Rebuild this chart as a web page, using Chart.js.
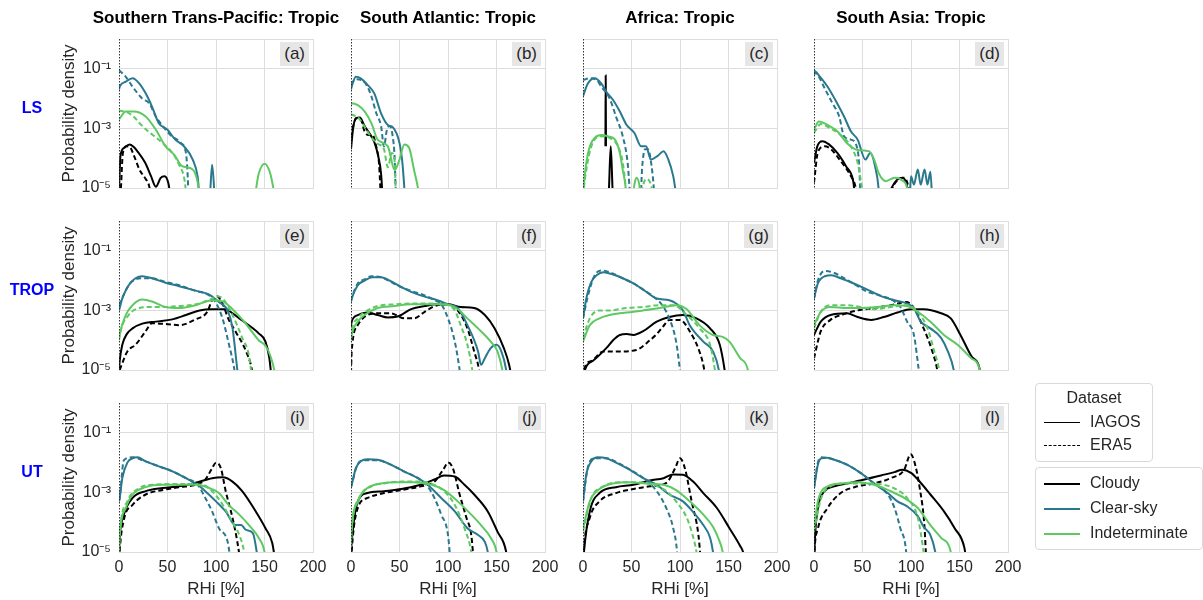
<!DOCTYPE html>
<html>
<head>
<meta charset="utf-8">
<script src="https://cdn.jsdelivr.net/npm/chart.js@4.4.1/dist/chart.umd.min.js"></script>
<style>
  body { margin: 0; background: #fff; width: 1203px; height: 600px; position: relative; overflow: hidden;
         font-family: "Liberation Sans", Arial, sans-serif; color: #262626; }
  canvas { position: absolute; }
  .coltitle { position: absolute; top: 8px; width: 300px; text-align: center; font-weight: bold; font-size: 17px; color: #000; }
  .rowlabel { position: absolute; width: 64px; text-align: center; font-weight: bold; font-size: 16px; color: #0000ff; }
  .tag { position: absolute; background: #e6e6e6; font-size: 17px; padding: 2px 4px; color: #262626; line-height: 20px; }
  .legbox { position: absolute; border: 1px solid #d9d9d9; border-radius: 4px; background: #fff; font-size: 16px; color: #262626; }
  .legtitle { position: absolute; width: 100%; text-align: center; top: 5px; }
  .legrow { position: absolute; left: 8px; height: 20px; line-height: 20px; white-space: nowrap; }
  .legrow span { display: inline-block; width: 36px; margin-right: 10px; vertical-align: middle; }
</style>
</head>
<body>
<script>
// ---- data (RHi in %, probability density) ----
const REGIONS = ['Southern Trans-Pacific: Tropic', 'South Atlantic: Tropic', 'Africa: Tropic', 'South Asia: Tropic'];
const LAYERS = ['LS', 'TROP', 'UT'];
const PANEL_TAGS = ['(a)', '(b)', '(c)', '(d)', '(e)', '(f)', '(g)', '(h)', '(i)', '(j)', '(k)', '(l)'];
const DATASET_NAMES = ['IAGOS', 'ERA5'];
const CATEGORY_NAMES = ['Cloudy', 'Clear-sky', 'Indeterminate'];
const CATEGORY_COLORS = ['#000000', '#2a788e', '#5ec962'];
const RHI_TICKS = [0, 50, 100, 150, 200];
const DENSITY_TICKS = [1e-5, 1e-3, 1e-1, 1];
const DENSITY_LABELS = ['10⁻⁵', '10⁻³', '10⁻¹', ''];

// one entry per panel (a)..(l); points are [RHi, density]
const cloudyIagos = [
  [[0,8e-6],[1.5,1.2e-4],[5,2.2e-4],[11,2.9e-4],[15,2.4e-4],[19,1.7e-4],[27,7e-5],[33,2.5e-5],[38,1.1e-5],[43,2.2e-5],[47,2.5e-5],[51,1.4e-5],[54,3e-6]],
  [[0,2e-4],[2,9e-4],[5,2.2e-3],[9,2.3e-3],[14,1.2e-3],[21,5.4e-4],[24,3.5e-4],[28,1.2e-4],[31,3e-5],[33,3e-6]],
  [[23.1,2.5e-4],[23.4,6e-2],[23.7,2.5e-4],[25,null],[26.8,1e-5],[28.6,2.5e-4],[30.4,1e-5]],
  [[0,7e-5],[3.4,2.5e-4],[8.6,3.7e-4],[15.5,2.9e-4],[24,1.5e-4],[33,5.4e-5],[40,2e-5],[44,3e-6],[74,3e-6],[80,1e-5],[85,1.8e-5],[91,2.2e-5],[95,1.5e-5],[99,3e-6]],
  [[0,1e-5],[0.7,2e-5],[3.4,7e-5],[8,1.6e-4],[14,2.5e-4],[24,3.6e-4],[38,4.2e-4],[55,5e-4],[69,7e-4],[83,1e-3],[96,1.1e-3],[110,1.1e-3],[117,8e-4],[124,5.4e-4],[138,2.5e-4],[144,1.7e-4],[151,9e-5],[155,2.5e-5],[158,3e-6]],
  [[0,3e-4],[0.7,4.2e-4],[7,7e-4],[17,8.5e-4],[27.5,7e-4],[38,5.8e-4],[48,6.2e-4],[62,1.1e-3],[76,1.4e-3],[89,1.6e-3],[100,1.6e-3],[113,1.3e-3],[127,1.2e-3],[138,7e-4],[148,2.5e-4],[158,5e-5],[163,1.5e-5],[167,3e-6]],
  [[0,3e-6],[2,1e-5],[10,2e-5],[24,5.4e-5],[31,1e-4],[38,1.5e-4],[45,1.6e-4],[52,1.5e-4],[62,2e-4],[76,4.2e-4],[89,6e-4],[103,7e-4],[117,5.4e-4],[131,2.5e-4],[141,7e-5],[146,1e-5],[148,3e-6]],
  [[0,1.5e-4],[7,4.2e-4],[17,7e-4],[34,8e-4],[45,6e-4],[59,4.8e-4],[72,6e-4],[86,8.5e-4],[100,1.1e-3],[113,1.1e-3],[131,8e-4],[141,5.4e-4],[151,1.5e-4],[162,3e-5],[171,1e-5],[173,3e-6]],
  [[0,1e-5],[1,4e-5],[5,1.8e-4],[14,6.5e-4],[27.5,1.1e-3],[45,1.4e-3],[62,1.6e-3],[79,2.1e-3],[96,3e-3],[107,3.2e-3],[117,2.3e-3],[127,1.1e-3],[141,2.3e-4],[151,6.3e-5],[158,2e-5],[162,3e-6]],
  [[0,1e-5],[0.7,2.2e-5],[7,5e-4],[17,9.5e-4],[34,1.1e-3],[52,1.3e-3],[69,1.7e-3],[86,2.7e-3],[96,3.7e-3],[107,3.4e-3],[117,1.8e-3],[127,8.5e-4],[141,2.3e-4],[151,4.8e-5],[160,1e-5],[162,3e-6]],
  [[0,3e-6],[1,1e-5],[7,2.3e-4],[17,9.5e-4],[34,1.5e-3],[52,1.8e-3],[69,2.5e-3],[83,3e-3],[93,4e-3],[103,3.9e-3],[113,2.4e-3],[124,9.5e-4],[138,3e-4],[151,6.3e-5],[162,1.6e-5],[165,1e-5],[168,3e-6]],
  [[0,3e-6],[1,3e-5],[4,3e-4],[11,1.1e-3],[21,1.6e-3],[34,2e-3],[52,2.7e-3],[69,3.7e-3],[83,4.8e-3],[91,5.8e-3],[100,4.5e-3],[107,2.7e-3],[120,8.5e-4],[134,2.3e-4],[145,6.3e-5],[155,1.4e-5],[158,3e-6]]
];
const cloudyEra5 = [
  [[2,1e-5],[4,1.5e-4],[8,2.5e-4],[11,2.4e-4],[15.5,1.2e-4],[21,4.2e-5],[27.5,2e-5],[31,1.2e-5],[34,3e-6]],
  [[0,5e-4],[3,1.5e-3],[6,2.2e-3],[10,2e-3],[14,8e-4],[18,6e-4],[22,6e-4],[26,2.5e-4],[29,6e-5],[31,3e-6]],
  [],
  [[0,1.5e-5],[4,1.6e-4],[11,2.5e-4],[17.5,2e-4],[27.5,8e-5],[38,2.5e-5],[43,1e-5],[45,3e-6],[76,3e-6],[82,1.2e-5],[88,2e-5],[93,2.2e-5],[97,1.2e-5],[100,3e-6]],
  [[0.7,1e-5],[8.6,4.2e-5],[17,7e-5],[27.5,2e-4],[34,3.7e-4],[48,3.5e-4],[62,3.2e-4],[79,5e-4],[91,9e-4],[96,2.2e-3],[101,3e-3],[107,1.6e-3],[113,5e-4],[120,2e-4],[131,4.2e-5],[137,1e-5],[139,3e-6]],
  [[0,8e-6],[0.7,4.2e-5],[7,3.2e-4],[17,7e-4],[27.5,8e-4],[41,8e-4],[55,5.4e-4],[65,5.4e-4],[76,9e-4],[89,1.5e-3],[100,1.6e-3],[110,1e-3],[120,2.5e-4],[127,4.2e-5],[132,1e-5],[134,3e-6]],
  [[0,3e-6],[1,1e-5],[8.6,2e-5],[21,4.2e-5],[38,4.2e-5],[55,4.7e-5],[69,1e-4],[76,1.6e-4],[83,3e-4],[89,4.8e-4],[100,4.8e-4],[110,2e-4],[120,4.2e-5],[125,1e-5],[127,3e-6]],
  [[0,2.5e-5],[7,2e-4],[17,4.8e-4],[31,7.5e-4],[45,1e-3],[62,1.2e-3],[79,1.5e-3],[95,1.9e-3],[103,1.2e-3],[113,2.5e-4],[122,4.2e-5],[127,1e-5],[129,3e-6]],
  [[0,3e-6],[0.7,1e-5],[5,1.2e-4],[14,3.8e-4],[27.5,8.5e-4],[45,1.2e-3],[62,1.5e-3],[79,1.8e-3],[89,2.7e-3],[96,6.5e-3],[100,1e-2],[105,6.5e-3],[110,1.1e-3],[117,1.4e-4],[122,2.2e-5],[126,3e-6]],
  [[0,3e-6],[0.7,1e-5],[7,3e-4],[17,6.5e-4],[34,9.5e-4],[52,1.2e-3],[72,1.6e-3],[86,2.3e-3],[96,6.5e-3],[100,1e-2],[105,6.5e-3],[112,8.5e-4],[119,1.4e-4],[124,3.7e-5],[127,3e-6]],
  [[0,3e-6],[0.7,1e-5],[7,1.4e-4],[17,5e-4],[34,9.5e-4],[52,1.3e-3],[69,1.6e-3],[86,2.1e-3],[95,6.5e-3],[100,1.4e-2],[105,6.5e-3],[112,5e-4],[119,3.7e-5],[122,3e-6]],
  [[0,3e-6],[0.5,1e-5],[4,6e-5],[14,3e-4],[27.5,9.5e-4],[45,1.6e-3],[62,2e-3],[79,3e-3],[93,5.8e-3],[99.6,1.9e-2],[103,1.2e-2],[109,1.4e-3],[114,6.3e-5],[116,3e-6]]
];
const clearIagos = [
  [[0,2e-2],[0.7,2.5e-2],[7,3.7e-2],[14,4.8e-2],[21,3.2e-2],[27.5,1.5e-2],[34,5.4e-3],[41,1.5e-3],[50,9e-4],[58,4.2e-4],[67,2.5e-4],[76,9e-5],[81,2.5e-5],[84,3e-6],[93,3e-6],[96,6e-5],[99,3e-6]],
  [[0,2e-2],[0.7,2.5e-2],[5,5.4e-2],[10,4.8e-2],[17,2.9e-2],[24,1.5e-2],[31,3.2e-3],[38,1.3e-3],[43,1.1e-3],[50,3.2e-4],[53,7e-5],[55,1e-5],[56,3e-6]],
  [[0,1.2e-2],[5,3.2e-2],[12,4.8e-2],[19,3.2e-2],[24,1.7e-2],[31,9e-3],[38,3.7e-3],[45,1.3e-3],[53,7e-4],[60,2.5e-4],[65,2.5e-4],[70,9e-5],[77,1.2e-4],[83,1.7e-4],[88,9e-5],[93,2.5e-5],[95,1e-5],[97,3e-6]],
  [[0,6e-2],[1.7,8e-2],[5,6e-2],[14,2.5e-2],[22,9e-3],[31,2.5e-3],[38,8e-4],[45,4.2e-4],[53,9e-5],[58,1.5e-4],[65,2.5e-5],[69,3e-6],[98,3e-6],[100,2.5e-5],[103,1.3e-5],[107,4.2e-5],[110,1.3e-5],[114,4.2e-5],[117,1.3e-5],[120,3.5e-5],[122,3e-6]],
  [[0,1e-3],[0.7,1.2e-3],[3.4,2.5e-3],[10,7e-3],[17,1.2e-2],[24,1.4e-2],[34,1.2e-2],[48,8.5e-3],[62,6.5e-3],[79,4.6e-3],[93,3.4e-3],[103,1.9e-3],[112,1e-3],[117,2.6e-4],[122,1e-5],[124,3e-6]],
  [[0,2e-3],[0.7,2.5e-3],[7,7e-3],[14,1e-2],[22,1.3e-2],[31,1.3e-2],[41,9.5e-3],[52,6e-3],[62,4.2e-3],[76,2.9e-3],[89,2.2e-3],[100,1.6e-3],[110,1.2e-3],[120,3.2e-4],[131,4.2e-5],[134,1.5e-5],[138,2.5e-5],[144,5.4e-5],[150,7e-5],[155,4.2e-5],[160,1e-5],[162,3e-6]],
  [[0,5.4e-4],[3.4,2.5e-3],[8.6,9e-3],[14,1.5e-2],[21,1.9e-2],[31,1.6e-2],[41,1.2e-2],[52,8e-3],[62,5e-3],[76,2.5e-3],[89,2.2e-3],[96,1.7e-3],[103,1e-3],[110,3.2e-4],[124,9e-5],[134,4.2e-5],[140,1e-5],[142,3e-6]],
  [[0,2.5e-3],[4,8e-3],[11,1.4e-2],[18,1.5e-2],[27.5,1.2e-2],[41,8e-3],[55,5e-3],[69,3e-3],[83,2.2e-3],[96,1.7e-3],[103,1.2e-3],[110,4.2e-4],[120,2.5e-4],[131,1.2e-4],[138,4.2e-5],[144,1e-5],[146,3e-6]],
  [[0,5e-4],[0.7,6.5e-4],[3.4,3e-3],[8.6,1e-2],[14,1.4e-2],[19,1.5e-2],[27.5,1.1e-2],[41,7.5e-3],[55,5.1e-3],[69,3e-3],[81,1.8e-3],[89,1.1e-3],[100,5e-4],[110,2.3e-4],[120,8e-5],[126,8e-5],[131,5.5e-5],[138,4.3e-5],[142,1e-5],[144,3e-6]],
  [[0,1.5e-3],[0.7,1.8e-3],[5,6.5e-3],[10,1.1e-2],[17,1.3e-2],[27.5,1.25e-2],[41,8.5e-3],[55,5e-3],[69,3e-3],[79,1.8e-3],[93,6.5e-4],[107,2.3e-4],[120,6.3e-5],[131,3.7e-5],[138,2.2e-5],[141,1e-5],[143,3e-6]],
  [[0,5e-4],[3.4,4e-3],[8.6,1.1e-2],[15.5,1.5e-2],[24,1.4e-2],[34,1e-2],[48,5.8e-3],[62,3e-3],[76,1.8e-3],[89,8.5e-4],[103,5e-4],[113,2.3e-4],[124,8e-5],[131,3e-5],[134,1e-5],[136,3e-6]],
  [[0,1.4e-3],[4,8.5e-3],[7.5,1.4e-2],[13,1.45e-2],[21,1.25e-2],[34,8.5e-3],[48,4.5e-3],[62,2e-3],[76,9.5e-4],[86,5e-4],[96,3.4e-4],[107,1.6e-4],[113,7e-5],[120,3.7e-5],[125,1e-5],[127,3e-6]]
];
const clearEra5 = [
  [[0,9e-2],[7,5.4e-2],[14,2.5e-2],[24,1e-2],[31,7e-3],[38,2.5e-3],[45,1.2e-3],[53,6e-4],[64,3.2e-4],[69,1.5e-4],[70.5,4e-5],[72,3e-6]],
  [[0,3e-2],[5,4.5e-2],[12,4e-2],[17,2.5e-2],[21,1.2e-2],[26,3.3e-3],[31,1.2e-3],[34,2.5e-4],[37,9e-4],[40,1.2e-3],[43,5.4e-4],[45,1e-4],[46,1e-5],[47,3e-6]],
  [[0,4.2e-2],[7,4.8e-2],[14,4.2e-2],[19,2.5e-2],[27.5,1e-2],[34,2.5e-3],[41,5.4e-4],[46,7e-5],[48,1e-5],[49,3e-6],[59,3e-6],[61,5e-5],[64,2e-4],[67,2e-4],[70,8e-5],[73,1e-5],[74,3e-6]],
  [[0,9e-2],[5,5.4e-2],[12,1.9e-2],[19,7e-3],[26,2.5e-3],[31,5.4e-4],[38,4.2e-4],[45,1.9e-4],[47,3e-5],[48,3e-6]],
  [[0,1.5e-3],[3,2.5e-3],[10,7e-3],[17,1.1e-2],[24,1.2e-2],[34,1.2e-2],[48,9e-3],[62,7e-3],[79,4.5e-3],[93,3.2e-3],[100,1.8e-3],[107,5e-4],[113,8e-5],[119,1e-5],[121,3e-6]],
  [[0,2e-3],[0.7,2.5e-3],[7,8e-3],[14,1.1e-2],[21,1.4e-2],[31,1.3e-2],[41,9e-3],[52,6e-3],[62,4.5e-3],[76,3.2e-3],[86,2.2e-3],[93,1.6e-3],[100,5.4e-4],[107,9e-5],[112,1e-5],[114,3e-6]],
  [[0,5.4e-4],[5,3e-3],[12,1.5e-2],[19,2.2e-2],[27.5,1.9e-2],[41,1.2e-2],[52,8e-3],[62,5e-3],[72,3e-3],[81,1.6e-3],[89,5.4e-4],[96,9e-5],[100,1e-5],[102,3e-6]],
  [[0,2.5e-3],[4,1e-2],[11,2.1e-2],[21,1.8e-2],[31,1.2e-2],[45,6.5e-3],[55,4.2e-3],[65,3.4e-3],[83,2e-3],[89,1.3e-3],[96,4.2e-4],[103,1.5e-4],[108,1e-5],[110,3e-6]],
  [[0,5e-4],[0.7,6.5e-4],[5,1.2e-2],[14,1.5e-2],[24,1.2e-2],[41,7.5e-3],[55,5.1e-3],[69,3e-3],[81,1.8e-3],[89,6.5e-4],[96,2.3e-4],[103,6.3e-5],[112,2.2e-5],[116,3e-6]],
  [[0,1.5e-3],[0.7,1.8e-3],[7,9e-3],[14,1.2e-2],[27.5,1.2e-2],[41,8.5e-3],[55,5e-3],[69,3e-3],[79,1.6e-3],[86,6.5e-4],[93,1.8e-4],[100,3.7e-5],[103,3e-6]],
  [[0,5e-4],[5,7e-3],[12,1.4e-2],[24,1.4e-2],[38,9e-3],[52,5e-3],[65,2.6e-3],[76,1.1e-3],[86,2.9e-4],[93,6.3e-5],[97,1e-5],[98,3e-6]],
  [[0,1.4e-3],[4,1e-2],[7.5,1.5e-2],[21,1.25e-2],[34,8.5e-3],[48,4.5e-3],[62,2e-3],[76,8.5e-4],[83,3e-4],[89,6.3e-5],[95,1e-5],[96,3e-6]]
];
const indetIagos = [
  [[0,2e-3],[7,3.7e-3],[15.5,3.7e-3],[27.5,2.5e-3],[38,9e-4],[48,2.5e-4],[57,1.3e-4],[65,5.4e-5],[76,4.2e-5],[81,1.6e-5],[84,3e-6],[138,3e-6],[144,3e-5],[150,6.5e-5],[156,3e-5],[162,3e-6]],
  [[0,6e-3],[0.7,7e-3],[7,6e-3],[14,3.7e-3],[21,1.5e-3],[27.5,4.2e-4],[38,2.5e-4],[45,4e-5],[50,9e-5],[55,2.9e-4],[60,2.2e-4],[65,4e-5],[69,1e-5],[71,3e-6]],
  [[0,3e-6],[0.7,1e-5],[3.4,7e-5],[7,2.5e-4],[12,4.8e-4],[19,6e-4],[26,5.4e-4],[33,4.2e-4],[38,1.5e-4],[41,4e-5],[44,1e-5],[45,3e-6],[50,3e-6],[53,1.3e-5],[55,2.2e-5],[58,1.3e-5],[60,3e-6]],
  [[0,9e-4],[5,1.7e-3],[14,1.3e-3],[24,8e-4],[34,3.2e-4],[45,1.9e-4],[57,1.7e-4],[62,9e-5],[67,3e-5],[74,1.7e-5],[83,2.2e-5],[91,1.8e-5],[96,1e-5],[98,3e-6]],
  [[0,1e-4],[0.7,1.5e-4],[7,7e-4],[14,1.5e-3],[24,2.3e-3],[34,2e-3],[48,1.3e-3],[62,1.2e-3],[79,1.5e-3],[96,2.2e-3],[107,2e-3],[117,1.1e-3],[131,3.5e-4],[144,1e-4],[151,6.5e-5],[156,3e-5],[160,1e-5],[162,3e-6]],
  [[0,1e-4],[0.7,1.5e-4],[7,4.2e-4],[14,7e-4],[27.5,1.2e-3],[45,1.4e-3],[62,1.6e-3],[79,1.6e-3],[96,1.6e-3],[110,1.1e-3],[120,5.4e-4],[134,2e-4],[144,9e-5],[151,4.2e-5],[156,1e-5],[158,3e-6]],
  [[0,9e-5],[7,3.2e-4],[17,5.4e-4],[27.5,7e-4],[45,8.5e-4],[62,1e-3],[79,1.2e-3],[96,1.5e-3],[107,1.1e-3],[120,3.2e-4],[134,1.5e-4],[144,1.3e-4],[151,9e-5],[162,2.5e-5],[170,1e-5],[172,3e-6]],
  [[0,3.2e-4],[7,9e-4],[17,1.3e-3],[34,1.2e-3],[48,1.2e-3],[65,1.3e-3],[83,1.5e-3],[96,1.4e-3],[107,9e-4],[120,4.2e-4],[134,1.5e-4],[148,7e-5],[162,2.5e-5],[171,1e-5],[173,3e-6]],
  [[0,1e-5],[0.7,3.7e-5],[7,3e-4],[14,8.5e-4],[27.5,1.5e-3],[45,1.8e-3],[62,1.8e-3],[79,1.8e-3],[93,1.4e-3],[103,9.5e-4],[113,3.8e-4],[124,1.8e-4],[134,8e-5],[144,3e-5],[150,1e-5],[152,3e-6]],
  [[0,2e-5],[0.7,6e-5],[7,5e-4],[17,1.4e-3],[31,2e-3],[48,2.2e-3],[65,2.2e-3],[83,1.8e-3],[96,1.2e-3],[110,5e-4],[124,1.8e-4],[134,8e-5],[144,3e-5],[150,1e-5],[152,3e-6]],
  [[0,6e-5],[7,5e-4],[17,1.3e-3],[31,2e-3],[48,2.2e-3],[65,2e-3],[83,1.8e-3],[96,1.2e-3],[110,5e-4],[124,1.8e-4],[134,7e-5],[141,2.2e-5],[144,1e-5],[146,3e-6]],
  [[0,6e-5],[4,5e-4],[14,1.6e-3],[27.5,2e-3],[45,2.2e-3],[62,1.8e-3],[79,1.1e-3],[93,6.5e-4],[107,3e-4],[120,8e-5],[131,3e-5],[141,1e-5],[143,3e-6]]
];
const indetEra5 = [
  [[0,4e-3],[8,3.5e-3],[15,2.5e-3],[22,1.4e-3],[30,8e-4],[38,5e-4],[46,3e-4],[55,1.5e-4],[62,6e-5],[68,1.5e-5],[70,3e-6]],
  [[0,3e-3],[8,2.2e-3],[15,1e-3],[22,4.5e-4],[28,3e-4],[34,2e-4],[38,5e-5],[42,1.5e-4],[45,8e-5],[46,1e-5],[47,3e-6]],
  [[0,3e-6],[1,1e-5],[3.4,4e-5],[8.6,2.5e-4],[17,5.4e-4],[27.5,4.8e-4],[36,2.5e-4],[41,7e-5],[44,1e-5],[45,3e-6],[57,3e-6],[61,1e-5],[65,2e-5],[71,1e-5],[73,3e-6]],
  [[0,7e-4],[7,1.4e-3],[17,1e-3],[27.5,6e-4],[38,2.5e-4],[45,7e-5],[48,2e-5],[52,3e-6]],
  [[0,1e-4],[0.7,1.5e-4],[10,7e-4],[21,1.2e-3],[31,1.3e-3],[48,1.3e-3],[62,1.4e-3],[79,1.6e-3],[96,2.5e-3],[100,3e-3],[107,2.5e-3],[117,7e-4],[127,1.2e-4],[134,3e-5],[138,3e-6]],
  [[0,1.2e-4],[0.7,2e-4],[7,5.4e-4],[17,1e-3],[27.5,1.4e-3],[45,1.6e-3],[62,1.7e-3],[79,1.7e-3],[96,1.6e-3],[107,1e-3],[113,3.2e-4],[120,7e-5],[125,1e-5],[127,3e-6]],
  [[0,1.2e-4],[7,5.4e-4],[17,1e-3],[27.5,1e-3],[45,1.2e-3],[62,1.3e-3],[79,1.5e-3],[93,1.5e-3],[107,7e-4],[120,2.5e-4],[131,7e-5],[136,1e-5],[138,3e-6]],
  [[0,2.5e-4],[7,9e-4],[17,1.5e-3],[34,1.5e-3],[48,1.3e-3],[62,1.1e-3],[79,1.3e-3],[96,1.5e-3],[107,9e-4],[117,2.5e-4],[124,4.2e-5],[129,1e-5],[131,3e-6]],
  [[0,1e-5],[0.7,3.7e-5],[8.6,5e-4],[21,1.4e-3],[34,1.8e-3],[55,1.9e-3],[72,1.9e-3],[86,1.8e-3],[96,1.1e-3],[107,3.8e-4],[117,1e-4],[124,3.7e-5],[129,1e-5],[131,3e-6]],
  [[0,1.5e-5],[0.7,5e-5],[8.6,6.5e-4],[21,1.6e-3],[34,2e-3],[52,2.3e-3],[72,2.3e-3],[82,2e-3],[96,1.1e-3],[107,3.8e-4],[117,6.3e-5],[124,1e-5],[126,3e-6]],
  [[0,5e-5],[8.6,6.5e-4],[21,1.6e-3],[38,2.2e-3],[55,2.2e-3],[72,1.8e-3],[86,1.1e-3],[96,5e-4],[107,1.4e-4],[113,3.7e-5],[117,1e-5],[119,3e-6]],
  [[0,5e-5],[7.5,6.5e-4],[17,1.6e-3],[34,2e-3],[52,2e-3],[72,1.8e-3],[86,1.2e-3],[96,6.5e-4],[107,1.4e-4],[113,1e-5],[115,3e-6]]
];

// ---- layout ----
const COL_LEFT = [119, 351, 583, 814];   // plot area left edge per column
const ROW_TOP = [39, 221, 403];          // plot area top edge per row
const PLOT_W = 194, PLOT_H = 149;
const AX_L = 64, PAD_T = 12, PAD_R = 18, AX_B = 52;
const GRID = '#dddddd';
const TEXT = '#262626';

Chart.defaults.font.family = '"Liberation Sans", Arial, sans-serif';
Chart.defaults.color = TEXT;

// dotted vertical marker at RHi = 0
const zeroLine = {
  id: 'zeroLine',
  afterDatasetsDraw(chart) {
    const a = chart.chartArea, ctx = chart.ctx;
    const x = Math.round(chart.scales.x.getPixelForValue(0)) + 0.5;
    ctx.save();
    ctx.strokeStyle = '#333333';
    ctx.lineWidth = 1;
    ctx.setLineDash([1.5, 1.5]);
    ctx.beginPath();
    ctx.moveTo(x, a.top);
    ctx.lineTo(x, a.bottom);
    ctx.stroke();
    ctx.restore();
  }
};

// keep every panel's plot area the same size whatever labels it shows
function noLabelPadding(s) {
  s.paddingTop = 0; s.paddingBottom = 0; s.paddingLeft = 0; s.paddingRight = 0;
}

// dataset list: first one is drawn on top
const SERIES = [
  { pts: indetIagos, cat: 2, dash: [] },
  { pts: indetEra5, cat: 2, dash: [5, 3] },
  { pts: clearIagos, cat: 1, dash: [] },
  { pts: clearEra5, cat: 1, dash: [5, 3] },
  { pts: cloudyIagos, cat: 0, dash: [] },
  { pts: cloudyEra5, cat: 0, dash: [5, 3] }
];

function addDiv(cls, text, css) {
  const d = document.createElement('div');
  d.className = cls;
  d.textContent = text;
  Object.assign(d.style, css);
  document.body.appendChild(d);
  return d;
}

for (let p = 0; p < 12; p++) {
  const r = Math.floor(p / 4), c = p % 4;
  const cv = document.createElement('canvas');
  cv.width = AX_L + PLOT_W + PAD_R;
  cv.height = PAD_T + PLOT_H + AX_B;
  cv.style.left = (COL_LEFT[c] - AX_L) + 'px';
  cv.style.top = (ROW_TOP[r] - PAD_T) + 'px';
  document.body.appendChild(cv);

  const datasets = SERIES.map(s => ({
    label: CATEGORY_NAMES[s.cat] + (s.dash.length ? ' ERA5' : ' IAGOS'),
    data: s.pts[p].map(([x, y]) => ({ x: x, y: y })),
    borderColor: CATEGORY_COLORS[s.cat],
    borderWidth: 2,
    borderDash: s.dash,
    pointRadius: 0,
    fill: false,
    cubicInterpolationMode: 'monotone',
    clip: 0
  }));

  new Chart(cv, {
    type: 'line',
    data: { datasets: datasets },
    plugins: [zeroLine],
    options: {
      responsive: false,
      animation: false,
      devicePixelRatio: 1,
      layout: { autoPadding: false, padding: { top: PAD_T, right: PAD_R, bottom: 0, left: 0 } },
      plugins: { legend: { display: false }, tooltip: { enabled: false } },
      scales: {
        x: {
          type: 'linear', min: 0, max: 200,
          afterBuildTicks: s => { s.ticks = RHI_TICKS.map(v => ({ value: v })); },
          afterFit: s => { s.height = AX_B; noLabelPadding(s); },
          grid: { color: ctx => (ctx.tick && ctx.tick.value === 0) ? 'rgba(0,0,0,0)' : GRID, drawTicks: false },
          border: { color: GRID },
          ticks: { display: r === 2, padding: 6, maxRotation: 0, font: { size: 16 }, color: TEXT },
          title: { display: r === 2, text: 'RHi [%]', font: { size: 17 }, color: TEXT, padding: { top: 2, bottom: 4 } }
        },
        y: {
          type: 'logarithmic', min: 1e-5, max: 1,
          afterBuildTicks: s => { s.ticks = DENSITY_TICKS.map(v => ({ value: v })); },
          afterFit: s => { s.width = AX_L; noLabelPadding(s); },
          grid: { color: GRID, drawTicks: false },
          border: { display: false },
          ticks: {
            display: c === 0, padding: 8, font: { size: 16 }, color: TEXT,
            callback: v => DENSITY_LABELS[DENSITY_TICKS.indexOf(v)] || ''
          },
          title: { display: c === 0, text: 'Probability density', font: { size: 17 }, color: TEXT, padding: { top: 4, bottom: 4 } }
        }
      }
    }
  });

  // panel tag in the upper right corner
  const tag = addDiv('tag', PANEL_TAGS[p], {});
  tag.style.top = (ROW_TOP[r] + 3) + 'px';
  tag.style.right = (1203 - (COL_LEFT[c] + PLOT_W - 4)) + 'px';
}

// column titles and row labels
REGIONS.forEach((t, c) => addDiv('coltitle', t, { left: (COL_LEFT[c] + PLOT_W / 2 - 150) + 'px' }));
LAYERS.forEach((t, r) => addDiv('rowlabel', t, { left: '0px', top: (ROW_TOP[r] + PLOT_H / 2 - 15) + 'px' }));

// legend: dataset box and category box
const box1 = addDiv('legbox', '', { left: '1035px', top: '383px', width: '116px', height: '77px' });
const t1 = document.createElement('div');
t1.className = 'legtitle';
t1.textContent = 'Dataset';
box1.appendChild(t1);
DATASET_NAMES.forEach((n, i) => {
  const row = document.createElement('div');
  row.className = 'legrow';
  row.style.top = (28 + i * 23) + 'px';
  const sw = document.createElement('span');
  sw.style.borderTop = '1px ' + (i === 0 ? 'solid' : 'dashed') + ' #000';
  row.appendChild(sw);
  row.appendChild(document.createTextNode(n));
  box1.appendChild(row);
});
const box2 = addDiv('legbox', '', { left: '1035px', top: '467px', width: '166px', height: '81px' });
CATEGORY_NAMES.forEach((n, i) => {
  const row = document.createElement('div');
  row.className = 'legrow';
  row.style.top = (5 + i * 25) + 'px';
  const sw = document.createElement('span');
  sw.style.borderTop = '2px solid ' + CATEGORY_COLORS[i];
  row.appendChild(sw);
  row.appendChild(document.createTextNode(n));
  box2.appendChild(row);
});
</script>
</body>
</html>
